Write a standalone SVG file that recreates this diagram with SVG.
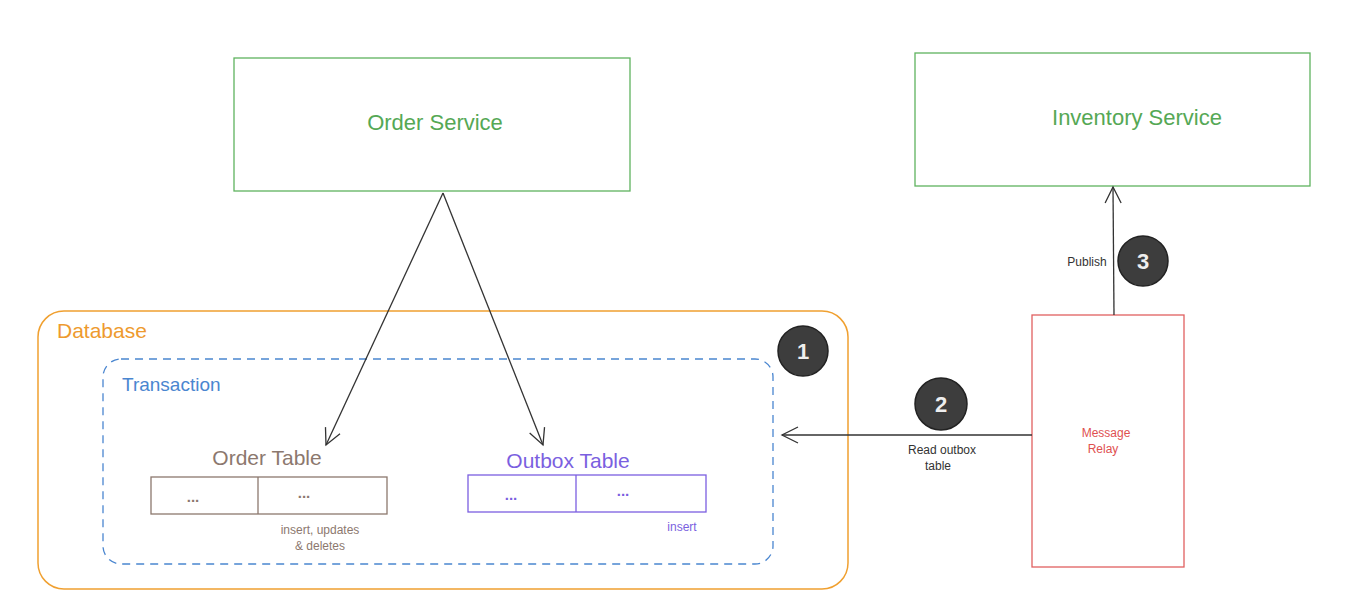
<svg xmlns="http://www.w3.org/2000/svg" width="1353" height="608" viewBox="0 0 1353 608">
<style>
text{font-family:"Liberation Sans","DejaVu Sans",sans-serif}
.svc{fill:#fff;stroke:#5fb35f;stroke-width:1.3}
.svct{fill:#55a855;font-size:22px;text-anchor:middle}
.conn{stroke:#333;stroke-width:1.3;fill:none}
.step{fill:#3d3d3d;stroke:#222;stroke-width:1.5}
.stept{fill:#eee;font-size:22px;text-anchor:middle;font-weight:bold}
.lbl{fill:#333;font-size:12px;text-anchor:middle}
.dots{font-size:15px;font-weight:bold;text-anchor:middle}
</style>
<defs>
<marker id="ah" viewBox="0 0 20 20" refX="18" refY="10" markerWidth="20" markerHeight="20" markerUnits="userSpaceOnUse" orient="auto">
<path d="M2,2 L18,10 L2,18" fill="none" stroke="#333" stroke-width="1.3"/>
</marker>
</defs>
<rect width="1353" height="608" fill="#fff"/>
<g id="database">
<rect x="38" y="311" width="810" height="278" rx="26" fill="none" stroke="#f0a030" stroke-width="1.5"/>
<text x="57" y="338" fill="#ee9a2e" font-size="21">Database</text>
</g>
<g id="transaction">
<rect x="103" y="359" width="670" height="205" rx="18" fill="none" stroke="#4a86d0" stroke-width="1.3" stroke-dasharray="8 6"/>
<text x="122" y="391" fill="#4a86d0" font-size="19">Transaction</text>
</g>
<g id="order-service">
<rect class="svc" x="234" y="58" width="396" height="133"/>
<text class="svct" x="435" y="130">Order Service</text>
</g>
<g id="inventory-service">
<rect class="svc" x="915" y="53" width="395" height="133"/>
<text class="svct" x="1137" y="125">Inventory Service</text>
</g>
<g id="order-table">
<text x="267" y="465" fill="#8c786e" font-size="21" text-anchor="middle">Order Table</text>
<rect x="151" y="477" width="236" height="37" fill="none" stroke="#8c786e" stroke-width="1.3"/>
<line x1="258" y1="477" x2="258" y2="514" stroke="#8c786e" stroke-width="1.3"/>
<text class="dots" x="193" y="502" fill="#8c786e">...</text>
<text class="dots" x="304" y="498" fill="#8c786e">...</text>
<text x="320" y="534" fill="#8c786e" font-size="12" text-anchor="middle">insert, updates</text>
<text x="320" y="550" fill="#8c786e" font-size="12" text-anchor="middle">&amp; deletes</text>
</g>
<g id="outbox-table">
<text x="568" y="468" fill="#7b5fe0" font-size="21" text-anchor="middle">Outbox Table</text>
<rect x="468" y="475" width="238" height="37" fill="none" stroke="#7b5fe0" stroke-width="1.3"/>
<line x1="576" y1="475" x2="576" y2="512" stroke="#7b5fe0" stroke-width="1.3"/>
<text class="dots" x="511" y="500" fill="#7b5fe0">...</text>
<text class="dots" x="623" y="496" fill="#7b5fe0">...</text>
<text x="682" y="531" fill="#7b5fe0" font-size="12" text-anchor="middle">insert</text>
</g>
<g id="message-relay">
<rect x="1032" y="315" width="152" height="252" fill="#fff" stroke="#e06060" stroke-width="1.3"/>
<text x="1106" y="437" fill="#e05050" font-size="12" text-anchor="middle">Message</text>
<text x="1103" y="453" fill="#e05050" font-size="12" text-anchor="middle">Relay</text>
</g>
<g id="connectors">
<line class="conn" x1="443" y1="193" x2="326" y2="445" marker-end="url(#ah)"/>
<line class="conn" x1="443" y1="193" x2="543" y2="445" marker-end="url(#ah)"/>
<line class="conn" x1="1032" y1="435" x2="782" y2="435" marker-end="url(#ah)"/>
<line class="conn" x1="1114" y1="315" x2="1113" y2="187" marker-end="url(#ah)"/>
<text class="lbl" x="942" y="454">Read outbox</text>
<text class="lbl" x="938" y="470">table</text>
<text class="lbl" x="1087" y="266">Publish</text>
</g>
<g id="step-1">
<circle class="step" cx="803" cy="351" r="25"/>
<text class="stept" x="803" y="359">1</text>
</g>
<g id="step-2">
<circle class="step" cx="941" cy="404" r="26"/>
<text class="stept" x="941" y="412">2</text>
</g>
<g id="step-3">
<circle class="step" cx="1143" cy="261" r="25"/>
<text class="stept" x="1143" y="269">3</text>
</g>
</svg>
